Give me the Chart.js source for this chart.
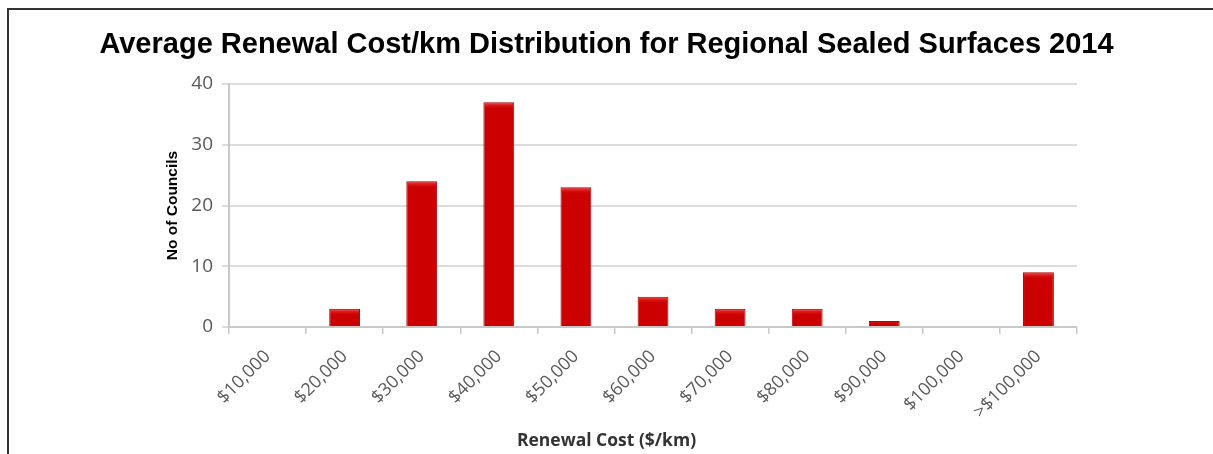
<!DOCTYPE html>
<html lang="en">
<head>
    <meta charset="UTF-8">
    <title>Average Renewal Cost/km Distribution</title>
    <script src="https://cdn.jsdelivr.net/npm/chart.js"></script>
    <style>
        body { margin: 0; background: #fff; }
        .frame {
            position: absolute; left: 7px; top: 8px; right: 0; bottom: 0;
            border-top: 2px solid #333; border-left: 2px solid #333;
        }
        canvas { position: absolute; left: 0; top: 0; }
    </style>
</head>
<body>
    <div class="frame"></div>
    <canvas id="costChart" width="1213" height="454"></canvas>

    <script>
        // chart data
        const costBands = ['$10,000', '$20,000', '$30,000', '$40,000', '$50,000', '$60,000',
                           '$70,000', '$80,000', '$90,000', '$100,000', '>$100,000'];
        const councilCounts = [0, 3, 24, 37, 23, 5, 3, 3, 1, 0, 9];
        const yTicks = [0, 10, 20, 30, 40];

        // light strip on the top of each bar, like the Excel bevel
        const barShine = {
            id: 'barShine',
            afterDatasetsDraw(chart) {
                const ctx = chart.ctx;
                chart.getDatasetMeta(0).data.forEach(bar => {
                    const h = bar.base - bar.y;
                    if (h < 2) return;
                    const left = bar.x - bar.width / 2;
                    const s = Math.min(7, h / 2);
                    const g = ctx.createLinearGradient(0, bar.y, 0, bar.y + s);
                    g.addColorStop(0, '#f55555');
                    g.addColorStop(1, 'rgba(204,0,0,0)');
                    ctx.save();
                    ctx.fillStyle = g;
                    ctx.fillRect(left + 1, bar.y + 1, bar.width - 2, s);
                    ctx.restore();
                });
            }
        };

        const ctx = document.getElementById('costChart').getContext('2d');
        new Chart(ctx, {
            type: 'bar',
            data: {
                labels: costBands,
                datasets: [{
                    data: councilCounts,
                    backgroundColor: '#cc0000',
                    borderColor: '#a30000',
                    borderWidth: 1,
                    categoryPercentage: 1,
                    barPercentage: 0.4
                }]
            },
            options: {
                responsive: false,
                animation: false,
                layout: { padding: { left: 0, right: 0, top: 10, bottom: 0 } },
                plugins: {
                    legend: { display: false },
                    tooltip: { enabled: false },
                    title: {
                        display: true,
                        text: 'Average Renewal Cost/km Distribution for Regional Sealed Surfaces 2014',
                        color: '#000',
                        font: { family: 'Liberation Sans', size: 29, weight: 'bold', lineHeight: 1.2 },
                        padding: { top: 17.6, bottom: 21.6 }
                    },
                    subtitle: {
                        display: true,
                        position: 'bottom',
                        text: 'Renewal Cost ($/km)',
                        color: '#333',
                        font: { family: 'Open Sans', size: 17.5, weight: 'bold', lineHeight: 1.2 },
                        padding: { top: 9, bottom: 2 }
                    }
                },
                scales: {
                    x: {
                        afterFit(scale) { scale.height = 95; },
                        grid: {
                            offset: true,
                            drawOnChartArea: false,
                            drawTicks: true,
                            tickLength: 7,
                            color: '#c8c8c8',
                            lineWidth: 1.5
                        },
                        border: { color: '#c8c8c8', width: 2 },
                        ticks: {
                            minRotation: 45,
                            maxRotation: 45,
                            padding: 12,
                            color: '#595959',
                            font: { family: 'Open Sans', size: 18 }
                        }
                    },
                    y: {
                        min: 0,
                        max: 40,
                        afterFit(scale) { scale.width = 229; },
                        afterBuildTicks(scale) { scale.ticks = yTicks.map(v => ({ value: v })); },
                        grid: { color: '#dcdcdc', lineWidth: 2, tickLength: 7 },
                        border: { color: '#c8c8c8', width: 2 },
                        ticks: {
                            padding: 9,
                            color: '#595959',
                            font: { family: 'Open Sans', size: 19 }
                        },
                        title: {
                            display: true,
                            text: 'No of Councils',
                            color: '#000',
                            font: { family: 'Liberation Sans', size: 15.5, weight: 'bold', lineHeight: 1.2 },
                            padding: { top: 163, bottom: 4 }
                        }
                    },
                    // empty right-hand axis, only to leave the blank margin on the right
                    spacer: {
                        position: 'right',
                        afterFit(scale) { scale.width = 136; },
                        grid: { drawOnChartArea: false, drawTicks: false },
                        border: { display: false },
                        ticks: { display: false }
                    }
                }
            },
            plugins: [barShine]
        });
    </script>
</body>
</html>
